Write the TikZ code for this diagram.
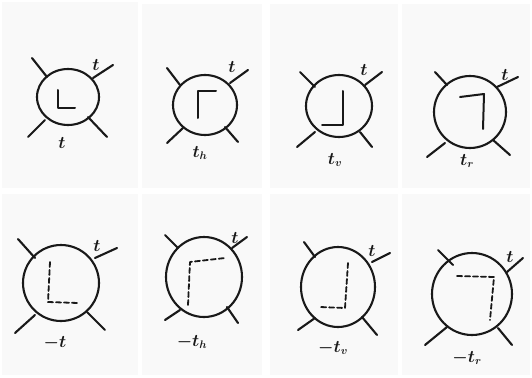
\documentclass[tikz,border=0pt]{standalone}
\begin{document}
\begin{tikzpicture}[x=1pt,y=-1pt,
  ink/.style={line width=2.1pt,black!90,line cap=round,line join=round},
  ring/.style={ink},
  leg/.style={ink},
  glyph/.style={ink,line width=2pt},
  dglyph/.style={ink,line width=1.8pt,dash pattern=on 5pt off 3pt},
  lbl/.style={font=\fontsize{16}{18}\selectfont\boldmath,inner sep=0pt,text=black!90},
  paper/.style={fill=black!2.5,draw=none}]
\useasboundingbox (0,0) rectangle (532,377);
\fill[white] (0,0) rectangle (532,377);
\fill[paper] (2,2) rectangle (138,188);
\fill[paper] (142,4) rectangle (262,188);
\fill[paper] (270,4) rectangle (398,188);
\fill[paper] (402,4) rectangle (530,188);
\fill[paper] (2,194) rectangle (138,375);
\fill[paper] (142,194) rectangle (262,375);
\fill[paper] (270,194) rectangle (398,375);
\fill[paper] (402,194) rectangle (530,375);

% ---- panel 1
\draw[ring] (68,97) ellipse [x radius=31,y radius=28];
\draw[leg] (32,58) -- (47,77);
\draw[leg] (93,78) -- (113,65);
\draw[leg] (28,137) -- (45,120);
\draw[leg] (88,117) -- (107,137);
\node[lbl] (a1) at (96,65) {$t$};
\node[lbl] (b1) at (62,143) {$t$};
\draw[glyph] (58,90) -- (58,108) -- (75,108);

% ---- panel 2
\draw[ring] (205,105) ellipse [x radius=32,y radius=30];
\draw[leg] (167,68) -- (180,85);
\draw[leg] (230,83) -- (248,70);
\draw[leg] (167,143) -- (183,128);
\draw[leg] (225,127) -- (238,142);
\node[lbl] (a2) at (232,67) {$t$};
\node[lbl] (b2) at (200,153) {$t_h$};
\draw[glyph] (198,118) -- (198,91) -- (216,91);

% ---- panel 3
\draw[ring] (339,106) ellipse [x radius=33,y radius=31];
\draw[leg] (300,72) -- (315,87);
\draw[leg] (365,85) -- (382,72);
\draw[leg] (297,147) -- (315,132);
\draw[leg] (360,132) -- (372,147);
\node[lbl] (a3) at (364,70) {$t$};
\node[lbl] (b3) at (335,160) {$t_v$};
\draw[glyph] (343,91) -- (343,125) -- (322,125);

% ---- panel 4
\draw[ring] (470,112) ellipse [x radius=36,y radius=36];
\draw[leg] (435,72) -- (447,85);
\draw[leg] (497,87) -- (518,77);
\draw[leg] (427,157) -- (445,143);
\draw[leg] (493,140) -- (510,155);
\node[lbl] (a4) at (505,75) {$t$};
\node[lbl] (b4) at (467,161) {$t_r$};
\draw[glyph] (460,97) -- (484,94) -- (483,129);

% ---- panel 5
\draw[ring] (61,283) ellipse [x radius=38,y radius=38];
\draw[leg] (18,239) -- (35,258);
\draw[leg] (95,258) -- (117,248);
\draw[leg] (15,333) -- (35,315);
\draw[leg] (87,312) -- (105,330);
\node[lbl] (a5) at (97,246) {$t$};
\node[lbl] (b5) at (55,343) {$-t$};
\draw[dglyph] (50,262) -- (48,302) -- (78,303);

% ---- panel 6
\draw[ring] (204,277) ellipse [x radius=38,y radius=40];
\draw[leg] (165,235) -- (178,248);
\draw[leg] (232,248) -- (247,237);
\draw[leg] (165,320) -- (180,310);
\draw[leg] (227,307) -- (238,323);
\node[lbl] (a6) at (235,238) {$t$};
\node[lbl] (b6) at (192,342) {$-t_h$};
\draw[dglyph] (188,305) -- (190,262) -- (225,258);

% ---- panel 7
\draw[ring] (338,287) ellipse [x radius=37,y radius=40];
\draw[leg] (304,242) -- (315,257);
\draw[leg] (372,262) -- (390,253);
\draw[leg] (298,330) -- (315,318);
\draw[leg] (362,317) -- (377,335);
\node[lbl] (a7) at (372,251) {$t$};
\node[lbl] (b7) at (333,348) {$-t_v$};
\draw[dglyph] (348,263) -- (345,308) -- (320,307);

% ---- panel 8
\draw[ring] (472,294) ellipse [x radius=40,y radius=41];
\draw[leg] (438,250) -- (453,265);
\draw[leg] (507,272) -- (523,258);
\draw[leg] (425,345) -- (447,327);
\draw[leg] (498,328) -- (512,345);
\node[lbl] (a8) at (510,257) {$t$};
\node[lbl] (b8) at (467,358) {$-t_r$};
\draw[dglyph] (457,276) -- (494,277) -- (490,320);
\end{tikzpicture}
\end{document}
